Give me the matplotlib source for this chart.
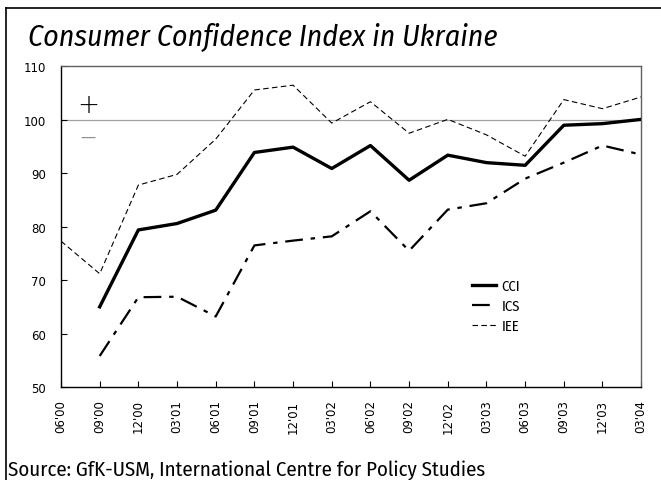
import matplotlib
matplotlib.use('Agg')
import matplotlib.pyplot as plt
from matplotlib.lines import Line2D
import matplotlib.transforms as mtransforms

# quarters on the x axis
quarters = ["06'00", "09'00", "12'00", "03'01", "06'01", "09'01", "12'01", "03'02",
            "06'02", "09'02", "12'02", "03'03", "06'03", "09'03", "12'03", "03'04"]

# CCI and ICS start at 09'00, IEE at 06'00
cci = [None, 65.0, 79.4, 80.6, 83.1, 93.9, 94.9, 90.9,
       95.2, 88.7, 93.4, 92.0, 91.5, 99.0, 99.3, 100.1]
ics = [None, 55.8, 66.8, 66.9, 63.2, 76.5, 77.4, 78.2,
       82.9, 75.5, 83.2, 84.4, 89.0, 92.0, 95.2, 93.5]
iee = [77.3, 71.2, 87.8, 89.8, 96.4, 105.6, 106.5, 99.4,
       103.4, 97.5, 100.1, 97.2, 93.2, 103.8, 102.1, 104.3]

yticks = [50, 60, 70, 80, 90, 100, 110]

narrow = ['Fira Sans Condensed', 'Roboto Condensed', 'PT Sans Narrow',
          'Liberation Sans Narrow', 'DejaVu Sans']

fig = plt.figure(figsize=(6.61, 4.81), dpi=100)
ax = fig.add_axes([0.0923, 0.1934, 0.8777, 0.6663])

x = list(range(len(quarters)))


def split(vals):
    xs = [i for i, v in zip(x, vals) if v is not None]
    ys = [v for v in vals if v is not None]
    return xs, ys


# reference line at 100
ax.axhline(100, color='#a0a0a0', lw=0.9, zorder=1)

xs, ys = split(iee)
ax.plot(xs, ys, color='black', lw=0.8, dashes=(5, 3), label='IEE', zorder=3)
xs, ys = split(ics)
ax.plot(xs, ys, color='black', lw=1.6, dashes=(8, 3.5, 2, 3.5), label='ICS', zorder=3)
xs, ys = split(cci)
ax.plot(xs, ys, color='black', lw=2.4, label='CCI', zorder=4)

ax.set_xlim(0, len(quarters) - 1)
ax.set_ylim(50, 110)
ax.set_xticks(x)
ax.set_xticklabels(quarters, rotation=90, fontsize=8.5)
ax.set_yticks(yticks)
ax.set_yticklabels([str(v) for v in yticks], fontsize=8.5)
ax.tick_params(direction='in', length=4, width=0.8)
ax.tick_params(axis='x', pad=9)
ax.tick_params(axis='y', pad=11)

for s in ['left', 'bottom']:
    ax.spines[s].set_color('black')
    ax.spines[s].set_linewidth(1.0)
for s in ['top', 'right']:
    ax.spines[s].set_color('#606060')
    ax.spines[s].set_linewidth(1.0)

# plus / minus markers near the 100 line
trans = mtransforms.blended_transform_factory(ax.transAxes, ax.transData)
ax.text(0.047, 102.8, '+', transform=trans, fontsize=19, ha='center', va='center',
        color='black', fontweight='light')
ax.text(0.047, 97.0, '\u2014', transform=trans, fontsize=11, ha='center', va='center',
        color='#909090')

handles, labels = ax.get_legend_handles_labels()
order = [2, 1, 0]
leg = ax.legend([handles[i] for i in order], [labels[i] for i in order],
                loc='upper left', bbox_to_anchor=(0.685, 0.378), frameon=False,
                handlelength=1.7, handletextpad=0.35, labelspacing=0.4,
                prop={'family': narrow, 'size': 10.5})

# title and source
fig.text(0.042, 0.905, 'Consumer Confidence Index in Ukraine', family=narrow,
         style='italic', fontsize=21.5, ha='left', va='baseline')
fig.text(0.012, 0.011, 'Source: GfK-USM, International Centre for Policy Studies',
         family=narrow, fontsize=15, ha='left', va='baseline')

# outer frame (left and top edges)
fig.add_artist(Line2D([0.009, 0.009], [0, 0.981], transform=fig.transFigure,
                      color='black', lw=1.2))
fig.add_artist(Line2D([0.009, 1.0], [0.981, 0.981], transform=fig.transFigure,
                      color='black', lw=1.2))

fig.savefig('out.png', dpi=100)
